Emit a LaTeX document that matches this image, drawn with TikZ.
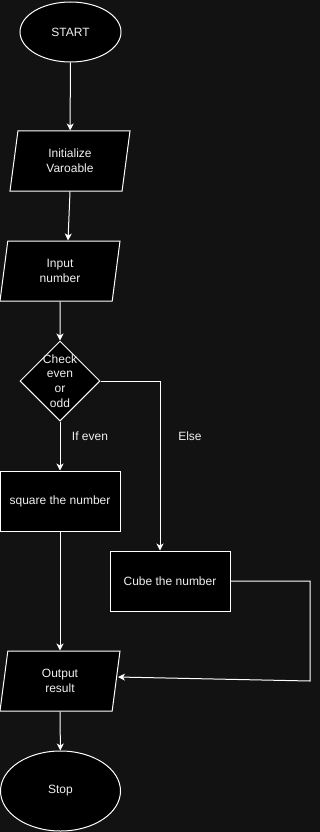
\documentclass[tikz,border=0pt]{standalone}
\usepackage{fontspec}
\setmainfont{Liberation Sans}
\usetikzlibrary{shapes.geometric,arrows.meta}
\definecolor{canvas}{HTML}{121212}
\definecolor{ink}{HTML}{F0F0F0}
\begin{document}
\begin{tikzpicture}[x=1pt,y=-1pt,
  every node/.style={font=\fontsize{12}{15}\selectfont, text=ink, align=center},
  blk/.style={draw=white, fill=black, line width=1pt, inner sep=0pt},
  term/.style={blk, ellipse},
  io/.style={blk, trapezium, trapezium left angle=71.565, trapezium right angle=108.435,
    trapezium stretches body, minimum width=120pt, minimum height=60pt},
  proc/.style={blk, rectangle, minimum width=120pt, minimum height=60pt},
  decide/.style={blk, diamond, minimum width=80pt, minimum height=80pt},
  flow/.style={draw=white, line width=1pt, -{Stealth[length=7pt,width=7pt,inset=2pt]}},
  plain/.style={font=\fontsize{12}{15}\selectfont, text=ink}
]
% canvas
\fill[canvas] (0,0) rectangle (320,832);
\useasboundingbox (0,0) rectangle (320,832);

% nodes
\node[term, minimum width=101pt, minimum height=60pt] (start) at (70.5,32) {START};
\node[io] (init) at (70,161) {Initialize\\Varoable};
\node[io] (inp) at (60,271) {Input\\number};
\node[decide, label={[align=center, text=ink, font=\fontsize{12}{14.6}\selectfont]center:Check\\even\\or\\odd}] (dec) at (60,381) {};
\node[proc] (sq) at (60,501) {square the number};
\node[proc] (cube) at (170,581) {Cube the number};
\node[io] (out) at (60,681) {Output\\result};
\node[term, minimum width=120pt, minimum height=80pt] (stop) at (60.5,791) {Stop};

% branch labels
\node[plain] (ifeven) at (90,436) {If even};
\node[plain] (else) at (190,436) {Else};

% return path from the cube branch
\coordinate (bendA) at (310,581);
\coordinate (bendB) at (310,681);
\coordinate (tip) at (118,677);

% connectors
\draw[flow] (start) -- (init);
\draw[flow] (init.south) -- ([xshift=8pt]inp.north);
\draw[flow] (inp) -- (dec);
\draw[flow] (dec) -- (sq);
\draw[flow] (dec.east) -| ([xshift=-10pt]cube.north);
\draw[flow] (sq) -- (out);
\draw[flow] (cube.east) -- (bendA) -- (bendB) -- (tip);
\draw[flow] (out) -- (stop);
\end{tikzpicture}
\end{document}
